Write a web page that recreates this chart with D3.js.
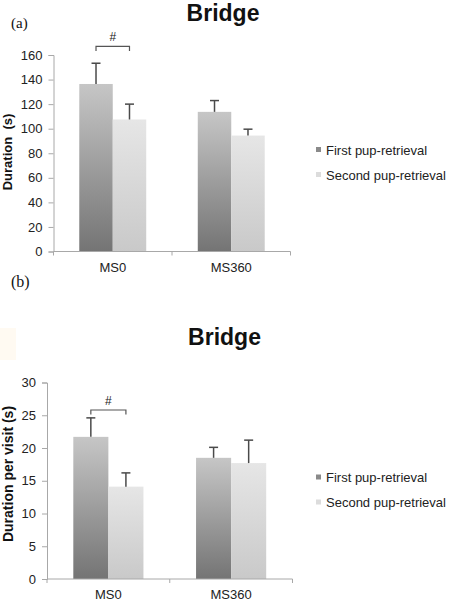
<!DOCTYPE html>
<html>
<head>
<meta charset="utf-8">
<script src="https://cdn.jsdelivr.net/npm/d3@7"></script>
<style>
  html, body { margin: 0; padding: 0; background: #fff; }
  svg { display: block; }
  text { font-family: "Liberation Sans", Arial, sans-serif; }
</style>
</head>
<body>
<svg id="chart" width="454" height="606"></svg>
<script>
// ---- data ----
const categories = ["MS0", "MS360"];
const seriesNames = ["First pup-retrieval", "Second pup-retrieval"];

const durationFirst = [136.4, 113.7];
const durationFirstErr = [16.9, 9.2];
const durationSecond = [107.5, 94.4];
const durationSecondErr = [12.5, 5.2];
const durationTicks = [0, 20, 40, 60, 80, 100, 120, 140, 160];

const perVisitFirst = [21.7, 18.5];
const perVisitFirstErr = [2.9, 1.6];
const perVisitSecond = [14.1, 17.7];
const perVisitSecondErr = [2.1, 3.5];
const perVisitTicks = [0, 5, 10, 15, 20, 25, 30];

const panelTitles = ["Bridge", "Bridge"];
const panelLetters = ["(a)", "(b)"];
const yLabels = ["Duration  (s)", "Duration per visit (s)"];
const sigMarks = ["#", "#"];
const bracketLevels = [167, 25.8];

// ---- drawing ----
const svg = d3.select("#chart");

// gradients
const defs = svg.append("defs");
const gradSpecs = [
  { id: "g0", top: "#c6c6c6", bottom: "#747474" },
  { id: "g1", top: "#e6e6e6", bottom: "#c9c9c9" }
];
gradSpecs.forEach(g => {
  const lg = defs.append("linearGradient").attr("id", g.id)
    .attr("x1", 0).attr("y1", 0).attr("x2", 0).attr("y2", 1);
  lg.append("stop").attr("offset", "0%").attr("stop-color", g.top);
  lg.append("stop").attr("offset", "100%").attr("stop-color", g.bottom);
});
const legendColors = ["#8a8a8a", "#dcdcdc"];

// faint artifact patch
svg.append("rect").attr("x", 0).attr("y", 328).attr("width", 16).attr("height", 32)
  .attr("fill", "#fffaf2");

function drawPanel(p) {
  const g = svg.append("g");
  const y = d3.scaleLinear().domain([p.ticks[0], p.ticks[p.ticks.length - 1]])
    .range([p.bottom, p.top]);
  const x0 = d3.scaleBand().domain(categories).range([p.left, p.right])
    .paddingInner(0).paddingOuter(0);
  const x1 = d3.scaleBand().domain(seriesNames).range([0, x0.bandwidth()])
    .paddingInner(0).paddingOuter(p.innerPad);

  const series = [
    { name: seriesNames[0], vals: p.first, errs: p.firstErr, fill: "url(#g0)" },
    { name: seriesNames[1], vals: p.second, errs: p.secondErr, fill: "url(#g1)" }
  ];

  // bars
  series.forEach(s => {
    g.selectAll(null).data(categories).enter().append("rect")
      .attr("x", (c) => x0(c) + x1(s.name))
      .attr("y", (c, i) => y(s.vals[i]))
      .attr("width", x1.bandwidth())
      .attr("height", (c, i) => y(0) - y(s.vals[i]))
      .attr("fill", s.fill);
  });

  // error bars (upper only)
  series.forEach(s => {
    categories.forEach((c, i) => {
      const cx = x0(c) + x1(s.name) + x1.bandwidth() / 2;
      const yTop = y(s.vals[i] + s.errs[i]);
      g.append("line").attr("x1", cx).attr("x2", cx)
        .attr("y1", y(s.vals[i])).attr("y2", yTop)
        .attr("stroke", "#4a4a4a").attr("stroke-width", 1.5);
      g.append("line").attr("x1", cx - 4.5).attr("x2", cx + 4.5)
        .attr("y1", yTop).attr("y2", yTop)
        .attr("stroke", "#4a4a4a").attr("stroke-width", 1.5);
    });
  });

  // y axis
  const yAxis = d3.axisLeft(y).tickValues(p.ticks).tickSize(5).tickPadding(6);
  const ya = g.append("g").attr("transform", `translate(${p.left},0)`).call(yAxis);
  ya.select(".domain").attr("stroke", "#a8a8a8").attr("stroke-width", 1);
  ya.selectAll(".tick line").attr("stroke", "#a8a8a8");
  ya.selectAll(".tick text").attr("fill", "#222")
    .style("font-size", "13px").style("font-family", "'Liberation Sans', Arial, sans-serif");

  // x axis
  const xAxis = d3.axisBottom(x0).tickSize(0).tickPadding(11);
  const xa = g.append("g").attr("transform", `translate(0,${p.bottom})`).call(xAxis);
  xa.select(".domain").attr("stroke", "#a8a8a8").attr("stroke-width", 1)
    .attr("d", `M${p.left},0H${p.right}`);
  xa.selectAll(".tick text").attr("fill", "#222")
    .style("font-size", "13px").style("font-family", "'Liberation Sans', Arial, sans-serif");
  const sepX = [x0.range()[0]].concat(categories.map(c => x0(c) + x0.bandwidth()));
  xa.selectAll(".sep").data(sepX).enter().append("line")
    .attr("x1", d => d).attr("x2", d => d).attr("y1", 0).attr("y2", 4)
    .attr("stroke", "#a8a8a8");

  // title
  g.append("text").attr("x", p.titleX).attr("y", p.titleY)
    .attr("text-anchor", "middle").style("font-weight", "bold")
    .style("font-size", "23px").attr("fill", "#111").text(p.title);

  // panel letter
  g.append("text").attr("x", 11).attr("y", p.letterY)
    .style("font-family", "'Liberation Serif', 'Times New Roman', serif")
    .style("font-size", p.letterSize + "px").attr("fill", "#111").text(p.letter);

  // y label
  g.append("text")
    .attr("transform", `translate(${p.yLabelX},${p.yLabelY}) rotate(-90)`)
    .attr("text-anchor", "middle").style("font-weight", "bold")
    .style("font-size", p.yLabelSize + "px").attr("fill", "#111")
    .style("white-space", "pre").attr("xml:space", "preserve").text(p.yLabel);

  // significance bracket
  const bx1 = x0(categories[0]) + x1(seriesNames[0]) + x1.bandwidth() / 2;
  const bx2 = x0(categories[0]) + x1(seriesNames[1]) + x1.bandwidth() / 2;
  const by = y(p.bracket);
  g.append("path").attr("d", `M${bx1},${by + 4.5}V${by}H${bx2}V${by + 4.5}`)
    .attr("fill", "none").attr("stroke", "#555").attr("stroke-width", 1.2);
  g.append("text").attr("x", (bx1 + bx2) / 2).attr("y", by - 5)
    .attr("text-anchor", "middle").style("font-size", "12px").attr("fill", "#222")
    .text(p.sig);

  // legend
  seriesNames.forEach((n, i) => {
    const ly = p.legendY + i * p.legendGap;
    g.append("rect").attr("x", 316).attr("y", ly - 3).attr("width", 5).attr("height", 5)
      .attr("fill", legendColors[i]);
    g.append("text").attr("x", 326).attr("y", ly).attr("dy", "0.35em")
      .style("font-size", "13px").attr("fill", "#222").text(n);
  });
}

drawPanel({
  left: 53.5, right: 290.5, top: 55, bottom: 251.5, innerPad: 0.77,
  ticks: durationTicks, first: durationFirst, firstErr: durationFirstErr,
  second: durationSecond, secondErr: durationSecondErr,
  title: panelTitles[0], titleX: 223, titleY: 21,
  letter: panelLetters[0], letterY: 28, letterSize: 15,
  yLabel: yLabels[0], yLabelX: 12, yLabelY: 152, yLabelSize: 13,
  bracket: bracketLevels[0], sig: sigMarks[0],
  legendY: 150, legendGap: 25
});

drawPanel({
  left: 47, right: 292.5, top: 382.5, bottom: 579, innerPad: 0.75,
  ticks: perVisitTicks, first: perVisitFirst, firstErr: perVisitFirstErr,
  second: perVisitSecond, secondErr: perVisitSecondErr,
  title: panelTitles[1], titleX: 224.5, titleY: 345,
  letter: panelLetters[1], letterY: 287, letterSize: 16,
  yLabel: yLabels[1], yLabelX: 12.5, yLabelY: 474, yLabelSize: 14,
  bracket: bracketLevels[1], sig: sigMarks[1],
  legendY: 477.5, legendGap: 25
});
</script>
</body>
</html>
